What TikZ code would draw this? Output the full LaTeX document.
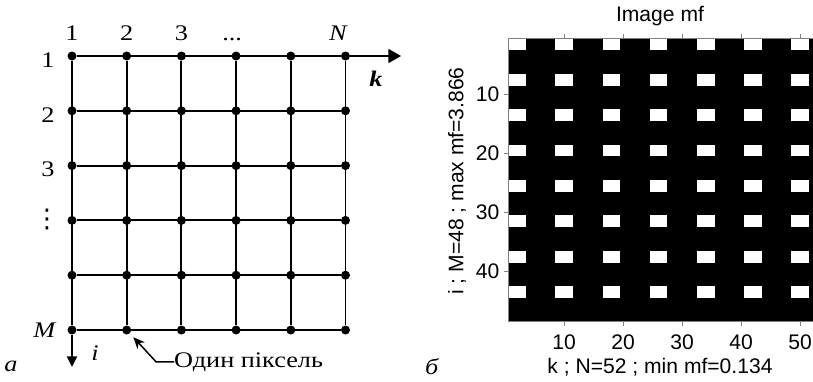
\documentclass[tikz,border=0pt]{standalone}
\usepackage{fontspec}
\setmainfont{Liberation Serif}[FakeStretch=1.18]
\setsansfont{Liberation Sans}
\newfontfamily\symfont{DejaVu Sans}
\usetikzlibrary{arrows.meta}

\tikzset{
  dot/.style={circle, fill=black, inner sep=0pt, minimum size=2.7mm},
  gridline/.style={line width=0.55mm},
  axtick/.style={gray, line width=0.3mm},
  plotfont/.style={font=\sffamily\fontsize{18}{20}\selectfont},
}

\begin{document}
\begin{tikzpicture}[x=0.3mm, y=-0.3mm, font=\fontsize{19}{21}\selectfont]
  \useasboundingbox (0,0) rectangle (813,381);
  % --- а: сітка пікселів ---
  \foreach \r in {1,...,6}
    \foreach \c in {1,...,6}
      \node[dot] (p-\r-\c) at ({72+(\c-1)*54.7},{56+(\r-1)*54.8}) {};
  \foreach \r in {1,...,6}
    \draw[gridline] (p-\r-1) -- (p-\r-6);
  \foreach \c in {1,...,6}
    \draw[gridline] (p-1-\c) -- (p-6-\c);
  \coordinate (kend) at (401,56);
  \coordinate (iend) at (72,367);
  \draw[gridline, -{Triangle[length=3.8mm,width=4.2mm]}] (p-1-6) -- (kend);
  \draw[gridline, -{Triangle[length=3.2mm,width=3mm]}] (p-6-1) -- (iend);
  \foreach \c/\t in {1/1,2/2,3/3,4/{.\kern0pt.\kern0pt.},6/\textit{N}}
    \node[anchor=base] (col-\c) at ({72+(\c-1)*54.7-(\c==6)*7-(\c==4)*4},40) {\t};
  \foreach \r/\t in {1/1,2/2,3/3}
    \node (row-\r) at (48,{60+(\r-1)*54.8}) {\t};
  \node[font=\symfont\fontsize{22}{24}\selectfont] (row-4) at (47,219) {⋮};
  \node (row-6) at (45,330) {\textit{M}};
  \node (klab) at (376,79) {\textbf{\textit{k}}};
  \node (ilab) at (95,353) {\textit{i}};
  \node (tag-a) at (11,366) {\textit{а}};
  \node[anchor=base west, inner sep=0pt] (pix) at (174,367) {Один піксель};
  \draw[line width=0.45mm, -{Stealth[length=3.5mm,width=3mm]}, shorten >=1.5mm]
    (pix.west) -- ++(-18,0) -- (p-6-2);

  % --- б: зображення mf ---
  \node (tag-b) at (432,367) {\textit{б}};
  \begin{scope}[shift={(505.2,35.5)}, x=1.77mm, y=-1.77mm, plotfont]
    \fill[black] (0.5,0.5) rectangle (52.5,48.5);
    \foreach \c in {1,9,...,49}
      \foreach \r in {1,7,...,43}
        \fill[white] ({\c-0.5},{\r-0.5}) rectangle ({\c+2.5},{\r+1.5});
    \draw[axtick] (52.5,0.5) -- (0.5,0.5) -- (0.5,48.5) -- (52.5,48.5);
    \foreach \t in {10,20,...,50} {
      \draw[axtick] (\t,0.5) -- (\t,-0.2);
      \draw[axtick] (\t,48.5) -- (\t,49.2);
      \node (xt-\t) at (\t,52) {\t};
    }
    \foreach \t in {10,20,...,40} {
      \draw[axtick] (0.5,\t) -- (-0.2,\t);
      \node[anchor=east] (yt-\t) at (-0.3,\t) {\t};
    }
  \end{scope}
  \node[plotfont] (ttl) at (660,16) {Image mf};
  \node[plotfont] (xlab) at (660,367) {k ; N=52 ; min mf=0.134};
  \node[plotfont, rotate=90] (ylab) at (457,181) {i ; M=48 ; max mf=3.866};
\end{tikzpicture}
\end{document}
